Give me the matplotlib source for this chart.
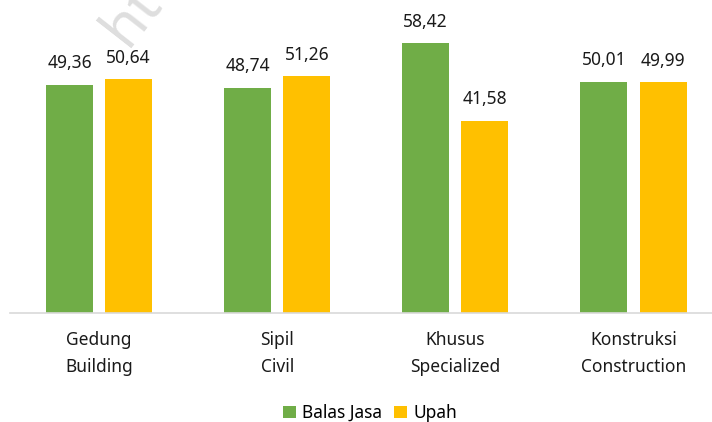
import matplotlib.pyplot as plt
import numpy as np

plt.rcParams['font.family'] = ['Noto Sans', 'DejaVu Sans']

categories = ['Gedung\nBuilding', 'Sipil\nCivil', 'Khusus\nSpecialized', 'Konstruksi\nConstruction']
balas_jasa = [49.36, 48.74, 58.42, 50.01]
upah = [50.64, 51.26, 41.58, 49.99]
series_names = ['Balas Jasa', 'Upah']
colors = ['#70AD47', '#FFC000']

fig = plt.figure(figsize=(7.12, 4.22), dpi=100)
ax = fig.add_axes([10 / 712, 109 / 422, 702 / 712, 313 / 422])

x = np.arange(len(categories))
w = 0.264
off = 0.166
b1 = ax.bar(x - off, balas_jasa, w, color=colors[0], label=series_names[0])
b2 = ax.bar(x + off, upah, w, color=colors[1], label=series_names[1])

for bars, vals in ((b1, balas_jasa), (b2, upah)):
    for b, v in zip(bars, vals):
        ax.annotate(f'{v:.2f}'.replace('.', ','), (b.get_x() + b.get_width() / 2, v),
                    xytext=(0, 9), textcoords='offset points',
                    ha='center', va='bottom', fontsize=12.5, color='#1a1a1a')

ax.set_xlim(-0.5, (712 - 99.5) / 178)
ax.set_ylim(0, 313 / 4.62)
ax.set_xticks(x)
ax.set_xticklabels(categories, fontsize=12.5, color='#1a1a1a', linespacing=1.65)
ax.tick_params(axis='x', length=0, pad=13)
ax.set_yticks([])
for s in ['top', 'right', 'left']:
    ax.spines[s].set_visible(False)
ax.spines['bottom'].set_color('#D9D9D9')
ax.spines['bottom'].set_linewidth(1.2)

# faint watermark remnant (clipped at the top like the source)
fig.text(132 / 712, 1 - 16 / 422, 'ht', rotation=52, fontsize=42, fontweight='bold',
         color='#DEDEDE', ha='center', va='center', zorder=0)

fig.legend(handles=[b1, b2], loc='center', bbox_to_anchor=(370 / 712, 1 - 413 / 422),
           ncol=2, frameon=False, fontsize=12.5, handlelength=0.75, handleheight=0.75,
           handletextpad=0.35, columnspacing=0.7)

fig.savefig('out.png', dpi=100)
